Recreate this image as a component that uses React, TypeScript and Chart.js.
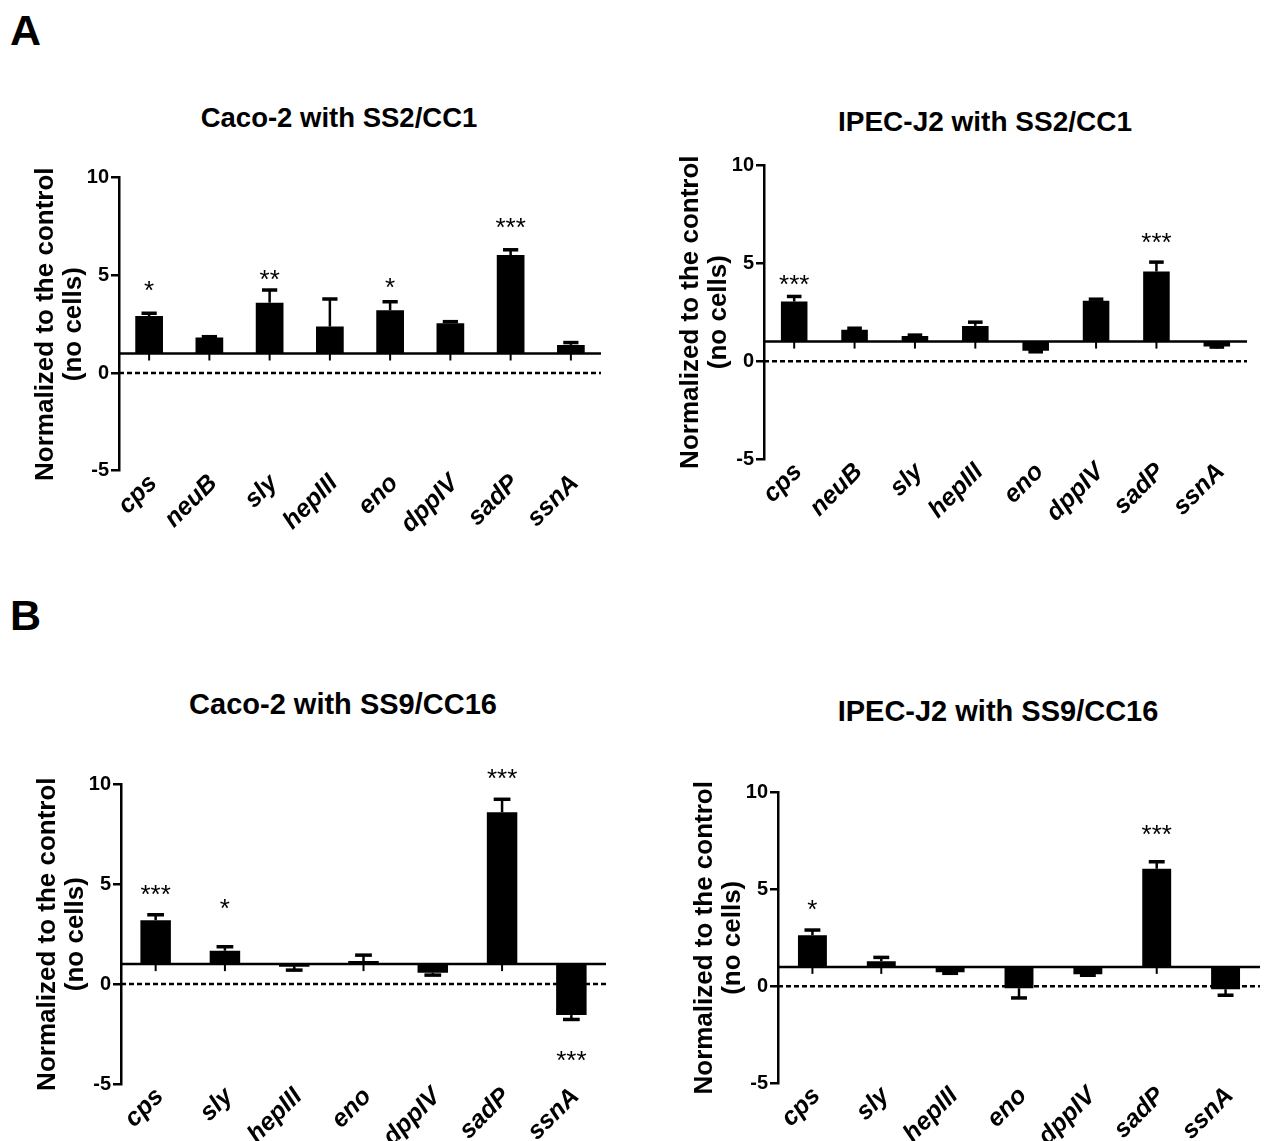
import React, { useEffect, useRef } from 'react';
import { Chart, registerables } from 'chart.js';
Chart.register(...registerables);

const FONT = "'Liberation Sans', Arial, Helvetica, sans-serif";

// ---------- data ----------
const genesA = ['cps', 'neuB', 'sly', 'hepIII', 'eno', 'dppIV', 'sadP', 'ssnA'];
const genesB = ['cps', 'sly', 'hepIII', 'eno', 'dppIV', 'sadP', 'ssnA'];
const yTickValues = [-5, 0, 5, 10];
const baselineValue = 1;

const caco2SS2Mean = [2.92, 1.82, 3.6, 2.38, 3.21, 2.55, 6.04, 1.44];
const caco2SS2Sem = [0.14, 0.04, 0.65, 1.41, 0.44, 0.08, 0.27, 0.12];
const caco2SS2Sig = ['*', '', '**', '', '*', '', '***', ''];
const caco2SS2SigAt = [4.5, null, 5.07, null, 4.68, null, 7.74, null];

const ipecSS2Mean = [3.04, 1.6, 1.29, 1.8, 0.53, 3.08, 4.57, 0.75];
const ipecSS2Sem = [0.26, 0.08, 0.04, 0.19, 0.05, 0.08, 0.48, 0.03];
const ipecSS2Sig = ['***', '', '', '', '', '', '***', ''];
const ipecSS2SigAt = [4.23, null, null, null, null, null, 6.33, null];

const caco2SS9Mean = [3.2, 1.67, 0.87, 1.15, 0.57, 8.6, -1.55];
const caco2SS9Sem = [0.27, 0.2, 0.17, 0.3, 0.12, 0.65, 0.22];
const caco2SS9Sig = ['***', '*', '', '', '', '***', '***'];
const caco2SS9SigAt = [4.78, 4.07, null, null, null, 10.6, -3.55];

const ipecSS9Mean = [2.63, 1.29, 0.72, -0.1, 0.62, 6.06, -0.15];
const ipecSS9Sem = [0.27, 0.2, 0.05, 0.5, 0.05, 0.36, 0.31];
const ipecSS9Sig = ['*', '', '', '', '', '***', ''];
const ipecSS9SigAt = [4.24, null, null, null, null, 8.14, null];

// ---------- layout ----------
type Area = { left: number; right: number; top: number; bottom: number };
type PanelDef = {
  title: string;
  titleX: number;
  titleY: number;
  titleSize: number;
  cats: string[];
  mean: number[];
  sem: number[];
  sig: string[];
  sigAt: (number | null)[];
  area: Area;
  barPct: number;
};

const panels: PanelDef[] = [
  {
    title: 'Caco-2 with SS2/CC1', titleX: 339, titleY: 117, titleSize: 27.5,
    cats: genesA, mean: caco2SS2Mean, sem: caco2SS2Sem, sig: caco2SS2Sig, sigAt: caco2SS2SigAt,
    area: { left: 119, right: 601, top: 177.7, bottom: 470.7 }, barPct: 0.46,
  },
  {
    title: 'IPEC-J2 with SS2/CC1', titleX: 985, titleY: 122, titleSize: 28,
    cats: genesA, mean: ipecSS2Mean, sem: ipecSS2Sem, sig: ipecSS2Sig, sigAt: ipecSS2SigAt,
    area: { left: 764, right: 1247, top: 165, bottom: 459.3 }, barPct: 0.44,
  },
  {
    title: 'Caco-2 with SS9/CC16', titleX: 343, titleY: 704, titleSize: 29,
    cats: genesB, mean: caco2SS9Mean, sem: caco2SS9Sem, sig: caco2SS9Sig, sigAt: caco2SS9SigAt,
    area: { left: 121, right: 606, top: 784.3, bottom: 1084 }, barPct: 0.44,
  },
  {
    title: 'IPEC-J2 with SS9/CC16', titleX: 998, titleY: 711, titleSize: 29,
    cats: genesB, mean: ipecSS9Mean, sem: ipecSS9Sem, sig: ipecSS9Sig, sigAt: ipecSS9SigAt,
    area: { left: 778, right: 1260, top: 792.3, bottom: 1083.3 }, barPct: 0.42,
  },
];

const Y_AXIS_W = 110;
const PAD_RIGHT = 8;
const X_AXIS_H = 95;

function Panel({ p }: { p: PanelDef }) {
  const ref = useRef<HTMLCanvasElement | null>(null);
  const canvasLeft = p.area.left - Y_AXIS_W;
  const canvasTop = Math.floor(p.area.top - 24);
  const padTop = p.area.top - canvasTop;
  const width = Math.round(p.area.right - canvasLeft + PAD_RIGHT);
  const height = Math.round(p.area.bottom - canvasTop + X_AXIS_H);
  const xH = height - (p.area.bottom - canvasTop);

  useEffect(() => {
    if (!ref.current) return;
    const annot = {
      id: 'annot',
      beforeDatasetsDraw(chart: any) {
        const { ctx, chartArea } = chart;
        const y0 = chart.scales.y.getPixelForValue(0);
        ctx.save();
        ctx.strokeStyle = '#000';
        ctx.lineWidth = 2.5;
        ctx.setLineDash([5, 3]);
        ctx.beginPath();
        ctx.moveTo(chartArea.left, y0);
        ctx.lineTo(chartArea.right, y0);
        ctx.stroke();
        ctx.restore();
      },
      afterDatasetsDraw(chart: any) {
        const { ctx, chartArea } = chart;
        const ys = chart.scales.y;
        const meta = chart.getDatasetMeta(0);
        ctx.save();
        ctx.strokeStyle = '#000';
        ctx.fillStyle = '#000';
        // error bars
        meta.data.forEach((bar: any, i: number) => {
          const v = p.mean[i];
          const s = p.sem[i];
          const end = v >= baselineValue ? v + s : v - s;
          const py1 = ys.getPixelForValue(v);
          const py2 = ys.getPixelForValue(end);
          ctx.lineWidth = 2.5;
          ctx.beginPath();
          ctx.moveTo(bar.x, py1);
          ctx.lineTo(bar.x, py2);
          ctx.stroke();
          const cw = bar.width * 0.55;
          ctx.lineWidth = 3.5;
          ctx.beginPath();
          ctx.moveTo(bar.x - cw / 2, py2);
          ctx.lineTo(bar.x + cw / 2, py2);
          ctx.stroke();
        });
        // baseline at 1 with ticks
        const yb = ys.getPixelForValue(baselineValue);
        ctx.lineWidth = 2.5;
        ctx.beginPath();
        ctx.moveTo(chartArea.left, yb);
        ctx.lineTo(chartArea.right, yb);
        ctx.stroke();
        ctx.lineWidth = 2;
        meta.data.forEach((bar: any) => {
          ctx.beginPath();
          ctx.moveTo(bar.x, yb);
          ctx.lineTo(bar.x, yb + 7);
          ctx.stroke();
        });
        // significance marks
        const fs = 26;
        ctx.font = `normal ${fs}px ${FONT}`;
        ctx.textAlign = 'center';
        ctx.textBaseline = 'alphabetic';
        meta.data.forEach((bar: any, i: number) => {
          const at = p.sigAt[i];
          if (!p.sig[i] || at === null) return;
          ctx.fillText(p.sig[i], bar.x, ys.getPixelForValue(at) + 0.55 * fs);
        });
        ctx.restore();
      },
      afterDraw(chart: any) {
        const { ctx, chartArea } = chart;
        const cy = (chartArea.top + chartArea.bottom) / 2;
        ctx.save();
        ctx.fillStyle = '#000';
        ctx.font = `bold 26px ${FONT}`;
        ctx.textAlign = 'center';
        ctx.textBaseline = 'middle';
        const lines = ['Normalized to the control', '(no cells)'];
        const offs = [73, 45];
        lines.forEach((t, k) => {
          ctx.save();
          ctx.translate(chartArea.left - offs[k], cy);
          ctx.rotate(-Math.PI / 2);
          ctx.fillText(t, 0, 0);
          ctx.restore();
        });
        ctx.restore();
      },
    };

    const chart = new Chart(ref.current, {
      type: 'bar',
      data: {
        labels: p.cats,
        datasets: [
          {
            data: p.mean.map((v) => [baselineValue, v]) as any,
            backgroundColor: '#000',
            borderWidth: 0,
            barPercentage: p.barPct,
            categoryPercentage: 1,
          },
        ],
      },
      options: {
        responsive: false,
        animation: false,
        devicePixelRatio: 1,
        layout: { padding: { left: 0, top: padTop, right: PAD_RIGHT, bottom: 0 } },
        plugins: {
          legend: { display: false },
          tooltip: { enabled: false },
          title: { display: false },
        },
        scales: {
          x: {
            grid: { display: false },
            border: { display: false },
            ticks: {
              autoSkip: false,
              maxRotation: 45,
              minRotation: 45,
              color: '#000',
              padding: -10,
              labelOffset: 4,
              font: { family: FONT, size: 25, weight: 'bold', style: 'italic' },
            },
            afterFit: (s: any) => {
              s.height = xH;
            },
          },
          y: {
            min: -5,
            max: 10,
            afterBuildTicks: (s: any) => {
              s.ticks = yTickValues.map((v) => ({ value: v }));
            },
            ticks: {
              color: '#000',
              padding: 2,
              font: { family: FONT, size: 20, weight: 'bold' },
            },
            grid: { drawOnChartArea: false, drawTicks: true, tickLength: 8, color: '#000', lineWidth: 2.5 },
            border: { display: true, color: '#000', width: 2.5 },
            afterFit: (s: any) => {
              s.width = Y_AXIS_W;
            },
          },
        },
      } as any,
      plugins: [annot as any],
    });
    return () => chart.destroy();
  }, []);

  return (
    <canvas
      ref={ref}
      width={width}
      height={height}
      style={{ position: 'absolute', left: canvasLeft, top: canvasTop, width, height }}
    />
  );
}

function TextAt({ text, cx, cy, size, left }: { text: string; cx: number; cy: number; size: number; left?: boolean }) {
  const top = cy - 0.4885 * size;
  if (left) {
    return (
      <div style={{ position: 'absolute', left: cx, top, fontSize: size, lineHeight: `${size}px`, fontWeight: 'bold', fontFamily: FONT, whiteSpace: 'nowrap' }}>
        {text}
      </div>
    );
  }
  return (
    <div style={{ position: 'absolute', left: cx - 300, width: 600, top, textAlign: 'center', fontSize: size, lineHeight: `${size}px`, fontWeight: 'bold', fontFamily: FONT, whiteSpace: 'nowrap' }}>
      {text}
    </div>
  );
}

export default function App() {
  return (
    <div style={{ position: 'absolute', left: 0, top: 0, width: 1269, height: 1141, overflow: 'hidden', background: '#fff', color: '#000' }}>
      <TextAt text="A" cx={10} cy={30} size={43} left />
      <TextAt text="B" cx={10} cy={615} size={43} left />
      {panels.map((p, i) => (
        <TextAt key={'t' + i} text={p.title} cx={p.titleX} cy={p.titleY} size={p.titleSize} />
      ))}
      {panels.map((p, i) => (
        <Panel key={'p' + i} p={p} />
      ))}
    </div>
  );
}
